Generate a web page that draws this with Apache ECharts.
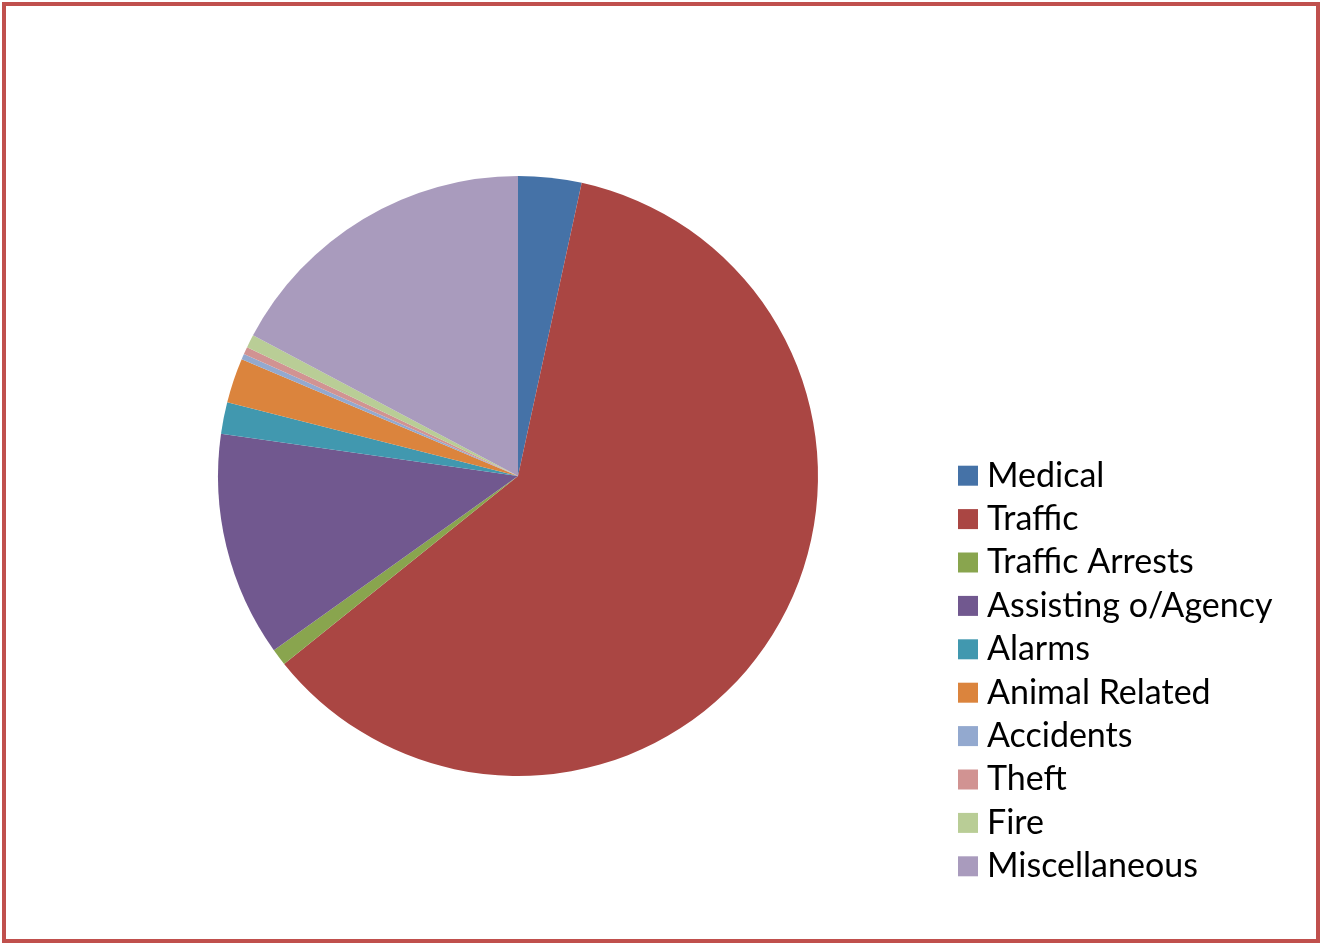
<!DOCTYPE html>
<html>
<head>
<meta charset="utf-8">
<script src="https://cdn.jsdelivr.net/npm/echarts@6/dist/echarts.min.js"></script>
<style>
html,body{margin:0;padding:0;background:#fff;}
.frame{
    position:absolute;
    left:2px;top:2px;
    width:1318px;height:941px;
    box-sizing:border-box;
    border:4px solid #C0504D;
}
#chart{position:absolute;left:0;top:0;width:1320px;height:945px;}
</style>
</head>
<body>
<div id="chart"></div>
<div class="frame"></div>
<script>
// categories and values
const categories = ['Medical','Traffic','Traffic Arrests','Assisting o/Agency','Alarms',
    'Animal Related','Accidents','Theft','Fire','Miscellaneous'];
const values = [34, 607, 9, 121, 17, 24, 3, 4, 7, 172];
const colors = ['#4572A7','#AA4643','#89A54E','#71588F','#4198AF',
    '#DB843D','#93A9CF','#D19392','#B9CD96','#A99BBD'];

const myChart = echarts.init(document.getElementById('chart'));

myChart.setOption({
    animation:false,
    color:colors,
    legend:{
        orient:'vertical',
        left:958,
        top:454,
        padding:0,
        itemWidth:20,
        itemHeight:20,
        itemGap:0,
        itemStyle:{borderWidth:0},
        icon:'rect',
        textStyle:{
            fontFamily:'Lato',
            fontSize:34,
            lineHeight:43.4,
            color:'#000',
            padding:[0,0,0,4]
        },
        data:categories
    },
    series:[
        {
            type:'pie',
            center:[518,476],
            radius:300,
            startAngle:90,
            clockwise:true,
            label:{show:false},
            labelLine:{show:false},
            emphasis:{disabled:true},
            itemStyle:{borderWidth:0},
            data:categories.map((name,i)=>({name:name,value:values[i]}))
        }
    ]
});
</script>
</body>
</html>
